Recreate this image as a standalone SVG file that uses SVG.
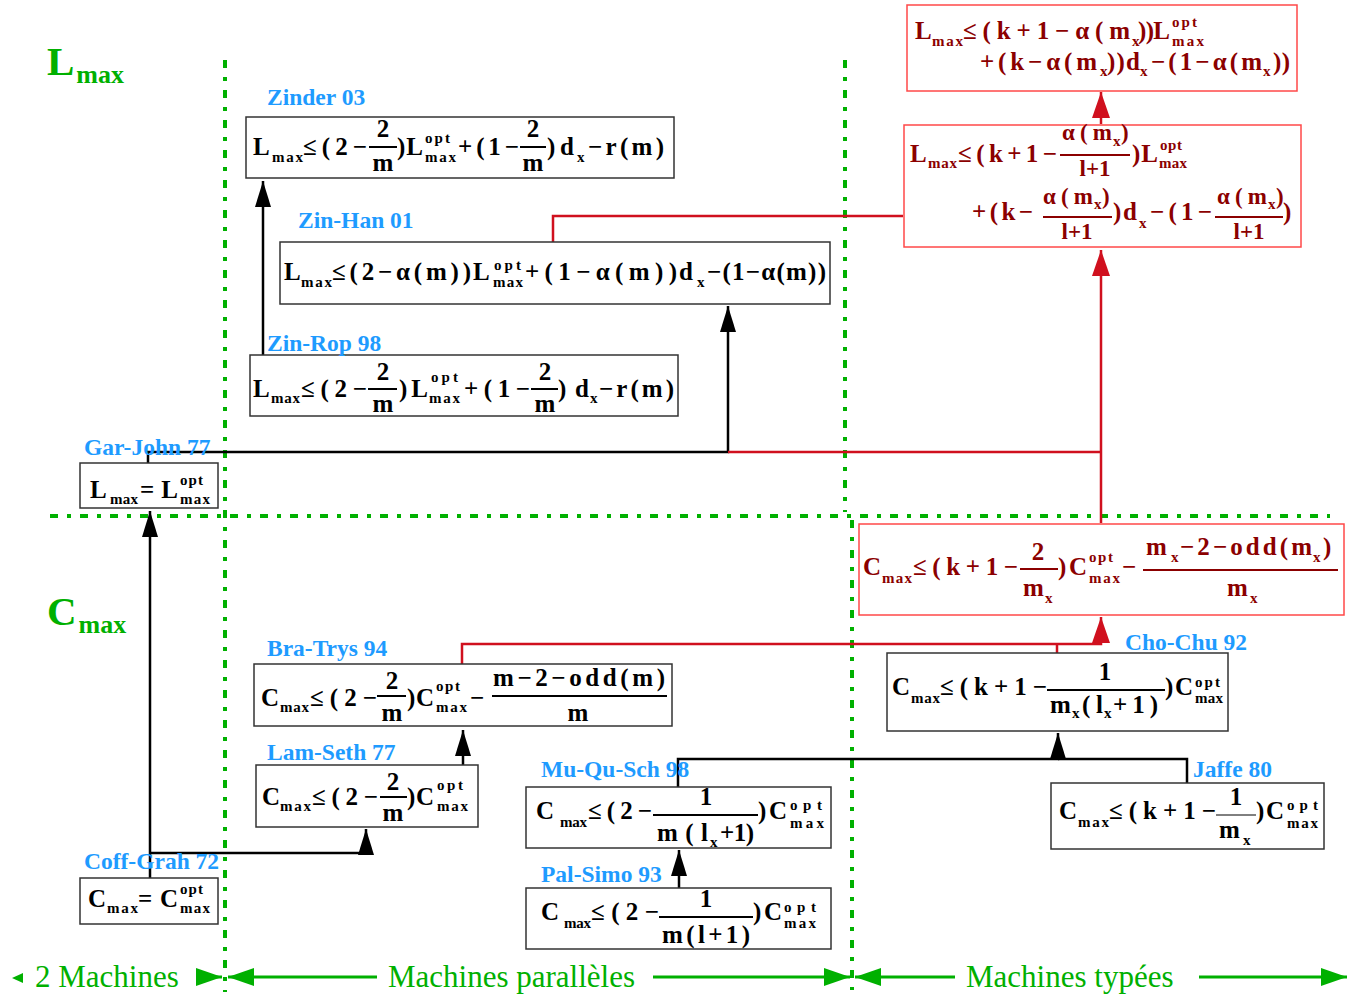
<svg xmlns="http://www.w3.org/2000/svg" width="1348" height="1000" viewBox="0 0 1348 1000">
<style>
.f{font-family:"Liberation Serif",serif;font-weight:bold;font-size:25px;fill:#000}
.s{font-family:"Liberation Serif",serif;font-weight:bold;font-size:15px;fill:#000}
.rd .f,.rd .s{fill:#8b0000}
.rd .q{font-size:23px}
.m{text-anchor:middle}
.lbl{font-family:"Liberation Serif",serif;font-weight:bold;font-size:23.5px;fill:#1e9bff}
.box{fill:#fff;stroke:#333;stroke-width:1.5}
.rbox{fill:#fff;stroke:#ff4848;stroke-width:1.5}
.bar{stroke:#000;stroke-width:2}
.rd .bar{stroke:#8b0000}
.k{fill:none;stroke:#000;stroke-width:2.5}
.r{fill:none;stroke:#d0101e;stroke-width:2.5}
.g{stroke:#00b000;stroke-width:4;stroke-dasharray:8 9 4 9;fill:none}
.gl{stroke:#00b000;stroke-width:3;fill:none}
.gt{font-family:"Liberation Serif",serif;font-size:31px;fill:#00b000}
.big{font-family:"Liberation Serif",serif;font-weight:bold;fill:#00b000}
</style>
<defs>
<marker id="ak" viewBox="0 0 26 16" refX="26" refY="8" markerWidth="26" markerHeight="16" markerUnits="userSpaceOnUse" orient="auto"><path d="M0,0 L26,8 L0,16 z" fill="#000"/></marker>
<marker id="ar" viewBox="0 0 26 18" refX="26" refY="9" markerWidth="26" markerHeight="18" markerUnits="userSpaceOnUse" orient="auto"><path d="M0,0 L26,9 L0,18 z" fill="#d0101e"/></marker>
<marker id="ag" viewBox="0 0 26 18" refX="26" refY="9" markerWidth="26" markerHeight="18" markerUnits="userSpaceOnUse" orient="auto"><path d="M0,0 L26,9 L0,18 z" fill="#00b000"/></marker>
</defs>

<g id="guides">
<line x1="225" y1="60" x2="225" y2="992" class="g"/>
<line x1="845" y1="60" x2="845" y2="512" class="g"/>
<line x1="852" y1="520" x2="852" y2="990" class="g"/>
<line x1="50" y1="516" x2="1330" y2="516" class="g"/>
<text class="big" x="47" y="75" font-size="41">L<tspan font-size="26" dx="2" y="83">max</tspan></text>
<text class="big" x="47" y="625" font-size="41">C<tspan font-size="26" dx="2" y="633">max</tspan></text>
<polygon points="12,978 23,973 23,983" fill="#00b000"/>
<text class="gt" x="35" y="987">2 Machines</text>
<path d="M196,977 H222" class="gl" marker-end="url(#ag)"/>
<path d="M377,977 H228" class="gl" marker-end="url(#ag)"/>
<text class="gt" x="388" y="987">Machines parallèles</text>
<path d="M653,977 H850" class="gl" marker-end="url(#ag)"/>
<path d="M955,977 H855" class="gl" marker-end="url(#ag)"/>
<text class="gt" x="966" y="987">Machines typées</text>
<path d="M1199,977 H1347" class="gl" marker-end="url(#ag)"/>
</g>

<g id="connectors">
<path d="M263,355 V181" class="k" marker-end="url(#ak)"/>
<path d="M148,463 V452 H728 V306" class="k" marker-end="url(#ak)"/>
<path d="M728,452 H1101" class="r"/>
<path d="M1101,523 V250" class="r" marker-end="url(#ar)"/>
<path d="M553,242 V216 H903" class="r"/>
<path d="M1101,124 V92" class="r" marker-end="url(#ar)"/>
<path d="M150,878 V511" class="k" stroke-width="3" marker-end="url(#ak)"/>
<path d="M150,853 H366 V829" class="k" marker-end="url(#ak)"/>
<path d="M463,765 V730" class="k" marker-end="url(#ak)"/>
<path d="M462,664 V644 H1101 V617" class="r" marker-end="url(#ar)"/>
<path d="M1057,653 V644" class="r"/>
<path d="M678,787 V759 H1058 V733" class="k" marker-end="url(#ak)"/>
<path d="M1187,783 V759 H1058" class="k" stroke-width="3.5"/>
<path d="M679,888 V850" class="k" marker-end="url(#ak)"/>
</g>

<g id="zinder03">
<rect x="246" y="117" width="428" height="61" class="box"/>
<text class="lbl" x="267" y="105">Zinder 03</text>
<text class="f" x="253" y="155">L</text>
<text class="s" x="272" y="162" textLength="31">max</text>
<text class="f" x="303" y="155" textLength="64">≤(2−</text>
<text class="f m" x="383" y="137">2</text>
<line x1="369" y1="147" x2="397" y2="147" class="bar"/>
<text class="f m" x="383" y="171">m</text>
<text class="f" x="397" y="155" textLength="26">)L</text>
<text class="s" x="425" y="143" textLength="25">opt</text>
<text class="s" x="425" y="162" textLength="31">max</text>
<text class="f" x="458" y="155" textLength="61">+(1−</text>
<text class="f m" x="533" y="137">2</text>
<line x1="520" y1="147" x2="546" y2="147" class="bar"/>
<text class="f m" x="533" y="171">m</text>
<text class="f" x="547" y="155" textLength="27">)d</text>
<text class="s" x="577" y="162">x</text>
<text class="f" x="588" y="155" textLength="76">−r(m)</text>
</g>

<g id="zinhan01">
<rect x="280" y="242" width="550" height="62" class="box"/>
<text class="lbl" x="298" y="228">Zin-Han 01</text>
<text class="f" x="284" y="280">L</text>
<text class="s" x="301" y="287" textLength="31">max</text>
<text class="f" x="332" y="280" textLength="139">≤(2−α(m))</text>
<text class="f" x="473" y="280">L</text>
<text class="s" x="494" y="270" textLength="27">opt</text>
<text class="s" x="493" y="287" textLength="30">max</text>
<text class="f" x="525" y="280" textLength="152">+(1−α(m))</text>
<text class="f" x="679" y="280">d</text>
<text class="s" x="697" y="287">x</text>
<text class="f" x="707" y="280" textLength="119">−(1−α(m))</text>
</g>

<g id="zinrop98">
<rect x="250" y="355" width="428" height="61" class="box"/>
<text class="lbl" x="267" y="351">Zin-Rop 98</text>
<text class="f" x="253" y="397">L</text>
<text class="s" x="271" y="403" textLength="29">max</text>
<text class="f" x="301" y="397" textLength="66">≤(2−</text>
<text class="f m" x="383" y="380">2</text>
<line x1="368" y1="389" x2="397" y2="389" class="bar"/>
<text class="f m" x="383" y="412">m</text>
<text class="f" x="399" y="397" textLength="29">)L</text>
<text class="s" x="431" y="382" textLength="27">opt</text>
<text class="s" x="429" y="403" textLength="31">max</text>
<text class="f" x="464" y="397" textLength="66">+(1−</text>
<text class="f m" x="545" y="380">2</text>
<line x1="531" y1="389" x2="558" y2="389" class="bar"/>
<text class="f m" x="545" y="412">m</text>
<text class="f" x="558" y="397" textLength="31">)d</text>
<text class="s" x="590" y="403">x</text>
<text class="f" x="599" y="397" textLength="75">−r(m)</text>
</g>

<g id="garjohn77">
<rect x="80" y="463" width="138" height="45" class="box"/>
<text class="lbl" x="84" y="455">Gar-John 77</text>
<text class="f" x="90" y="498">L</text>
<text class="s" x="110" y="504" textLength="28">max</text>
<text class="f" x="140" y="498" textLength="38">=L</text>
<text class="s" x="180" y="485" textLength="23">opt</text>
<text class="s" x="180" y="504" textLength="30">max</text>
</g>

<g id="coffgrah72">
<rect x="80" y="878" width="138" height="46" class="box"/>
<text class="lbl" x="84" y="869">Coff-Grah 72</text>
<text class="f" x="88" y="907">C</text>
<text class="s" x="107" y="913" textLength="31">max</text>
<text class="f" x="138" y="907" textLength="40">=C</text>
<text class="s" x="180" y="894" textLength="23">opt</text>
<text class="s" x="180" y="913" textLength="30">max</text>
</g>

<g id="bratrys94">
<rect x="254" y="664" width="418" height="62" class="box"/>
<text class="lbl" x="267" y="656">Bra-Trys 94</text>
<text class="f" x="261" y="706">C</text>
<text class="s" x="280" y="712" textLength="29">max</text>
<text class="f" x="310" y="706" textLength="67">≤(2−</text>
<text class="f m" x="392" y="689">2</text>
<line x1="377" y1="696" x2="406" y2="696" class="bar"/>
<text class="f m" x="392" y="721">m</text>
<text class="f" x="407" y="706" textLength="27">)C</text>
<text class="s" x="436" y="691" textLength="24">opt</text>
<text class="s" x="436" y="712" textLength="31">max</text>
<text class="f" x="470" y="706">−</text>
<text class="f" x="493" y="686" textLength="172">m−2−odd(m)</text>
<line x1="492" y1="696" x2="667" y2="696" class="bar"/>
<text class="f m" x="578" y="721">m</text>
</g>

<g id="lamseth77">
<rect x="256" y="765" width="222" height="62" class="box"/>
<text class="lbl" x="267" y="760">Lam-Seth 77</text>
<text class="f" x="262" y="805">C</text>
<text class="s" x="280" y="811" textLength="31">max</text>
<text class="f" x="312" y="805" textLength="66">≤(2−</text>
<text class="f m" x="393" y="790">2</text>
<line x1="380" y1="797" x2="407" y2="797" class="bar"/>
<text class="f m" x="393" y="821">m</text>
<text class="f" x="407" y="805" textLength="27">)C</text>
<text class="s" x="437" y="790" textLength="26">opt</text>
<text class="s" x="437" y="811" textLength="31">max</text>
</g>

<g id="muqusch98">
<rect x="526" y="787" width="305" height="61" class="box"/>
<text class="lbl" x="541" y="777">Mu-Qu-Sch 98</text>
<text class="f" x="536" y="819">C</text>
<text class="s" x="560" y="827" textLength="27">max</text>
<text class="f" x="588" y="819" textLength="64">≤(2−</text>
<text class="f m" x="706" y="805">1</text>
<line x1="653" y1="815" x2="758" y2="815" class="bar"/>
<text class="f" x="657" y="841" textLength="51">m(l</text>
<text class="s" x="710" y="847">x</text>
<text class="f" x="720" y="841" textLength="34">+1)</text>
<text class="f" x="758" y="819" textLength="29">)C</text>
<text class="s" x="790" y="810" textLength="32">opt</text>
<text class="s" x="790" y="828" textLength="34">max</text>
</g>

<g id="palsimo93">
<rect x="526" y="888" width="305" height="61" class="box"/>
<text class="lbl" x="541" y="882">Pal-Simo 93</text>
<text class="f" x="541" y="920">C</text>
<text class="s" x="564" y="928" textLength="27">max</text>
<text class="f" x="591" y="920" textLength="68">≤(2−</text>
<text class="f m" x="706" y="907">1</text>
<line x1="659" y1="917" x2="753" y2="917" class="bar"/>
<text class="f m" x="706" y="943" textLength="88">m(l+1)</text>
<text class="f" x="753" y="920" textLength="29">)C</text>
<text class="s" x="784" y="912" textLength="32">opt</text>
<text class="s" x="784" y="928" textLength="32">max</text>
</g>

<g id="chochu92">
<rect x="887" y="653" width="341" height="78" class="box"/>
<text class="lbl" x="1125" y="650">Cho-Chu 92</text>
<text class="f" x="892" y="695">C</text>
<text class="s" x="911" y="703" textLength="29">max</text>
<text class="f" x="940" y="695" textLength="107">≤(k+1−</text>
<text class="f m" x="1105" y="680">1</text>
<line x1="1047" y1="690" x2="1165" y2="690" class="bar"/>
<text class="f" x="1050" y="713">m</text>
<text class="s" x="1072" y="718">x</text>
<text class="f" x="1082" y="713" textLength="21">(l</text>
<text class="s" x="1104" y="718">x</text>
<text class="f" x="1113" y="713" textLength="45">+1)</text>
<text class="f" x="1165" y="695" textLength="28">)C</text>
<text class="s" x="1195" y="687" textLength="25">opt</text>
<text class="s" x="1195" y="703" textLength="28">max</text>
</g>

<g id="jaffe80">
<rect x="1051" y="783" width="273" height="66" class="box"/>
<text class="lbl" x="1193" y="777">Jaffe 80</text>
<text class="f" x="1059" y="819">C</text>
<text class="s" x="1078" y="827" textLength="31">max</text>
<text class="f" x="1109" y="819" textLength="107">≤(k+1−</text>
<text class="f m" x="1236" y="805">1</text>
<line x1="1216" y1="815" x2="1256" y2="815" stroke="#000" stroke-width="1"/>
<text class="f" x="1219" y="838">m</text>
<text class="s" x="1243" y="845">x</text>
<text class="f" x="1256" y="819" textLength="28">)C</text>
<text class="s" x="1287" y="810" textLength="31">opt</text>
<text class="s" x="1287" y="828" textLength="31">max</text>
</g>

<g id="typed-cmax" class="rd">
<rect x="859" y="524" width="485" height="91" class="rbox"/>
<text class="f" x="863" y="575">C</text>
<text class="s" x="882" y="583" textLength="30">max</text>
<text class="f" x="913" y="575" textLength="105">≤(k+1−</text>
<text class="f m" x="1038" y="560">2</text>
<line x1="1020" y1="569" x2="1058" y2="569" class="bar"/>
<text class="f" x="1023" y="596">m</text>
<text class="s" x="1045" y="603">x</text>
<text class="f" x="1058" y="575" textLength="29">)C</text>
<text class="s" x="1089" y="562" textLength="24">opt</text>
<text class="s" x="1089" y="583" textLength="31">max</text>
<text class="f" x="1122" y="575">−</text>
<text class="f" x="1146" y="555">m</text>
<text class="s" x="1171" y="562">x</text>
<text class="f" x="1180" y="555" textLength="132">−2−odd(m</text>
<text class="s" x="1313" y="562">x</text>
<text class="f" x="1323" y="555">)</text>
<line x1="1143" y1="570" x2="1338" y2="570" class="bar"/>
<text class="f" x="1227" y="596">m</text>
<text class="s" x="1250" y="603">x</text>
</g>

<g id="typed-lmax-1" class="rd">
<rect x="904" y="125" width="397" height="122" class="rbox"/>
<text class="f" x="910" y="162">L</text>
<text class="s" x="928" y="168" textLength="29">max</text>
<text class="f" x="958" y="162" textLength="99">≤(k+1−</text>
<text class="f q" x="1062" y="140" textLength="50">α(m</text>
<text class="s" x="1113" y="146">x</text>
<text class="f q" x="1121" y="140">)</text>
<line x1="1060" y1="155" x2="1130" y2="155" class="bar"/>
<text class="f q m" x="1095" y="176">l+1</text>
<text class="f" x="1132" y="162" textLength="26">)L</text>
<text class="s" x="1160" y="150" textLength="22">opt</text>
<text class="s" x="1159" y="168" textLength="28">max</text>
<text class="f" x="972" y="220" textLength="61">+(k−</text>
<text class="f q" x="1043" y="204" textLength="50">α(m</text>
<text class="s" x="1094" y="209">x</text>
<text class="f q" x="1102" y="204">)</text>
<line x1="1043" y1="217" x2="1112" y2="217" class="bar"/>
<text class="f q m" x="1077" y="239">l+1</text>
<text class="f" x="1113" y="220" textLength="24">)d</text>
<text class="s" x="1139" y="228">x</text>
<text class="f" x="1150" y="220" textLength="62">−(1−</text>
<text class="f q" x="1217" y="204" textLength="50">α(m</text>
<text class="s" x="1268" y="209">x</text>
<text class="f q" x="1276" y="204">)</text>
<line x1="1215" y1="217" x2="1283" y2="217" class="bar"/>
<text class="f q m" x="1249" y="239">l+1</text>
<text class="f" x="1283" y="220">)</text>
</g>

<g id="typed-lmax-2" class="rd">
<rect x="907" y="5" width="390" height="86" class="rbox"/>
<text class="f" x="915" y="39">L</text>
<text class="s" x="932" y="46" textLength="31">max</text>
<text class="f" x="963" y="39" textLength="167">≤(k+1−α(m</text>
<text class="s" x="1132" y="46">x</text>
<text class="f" x="1138" y="39" textLength="32">))L</text>
<text class="s" x="1172" y="27" textLength="25">opt</text>
<text class="s" x="1172" y="46" textLength="32">max</text>
<text class="f" x="980" y="70" textLength="117">+(k−α(m</text>
<text class="s" x="1100" y="76">x</text>
<text class="f" x="1107" y="70" textLength="33">))d</text>
<text class="s" x="1140" y="76">x</text>
<text class="f" x="1151" y="70" textLength="111">−(1−α(m</text>
<text class="s" x="1263" y="76">x</text>
<text class="f" x="1273" y="70" textLength="17">))</text>
</g>
</svg>
